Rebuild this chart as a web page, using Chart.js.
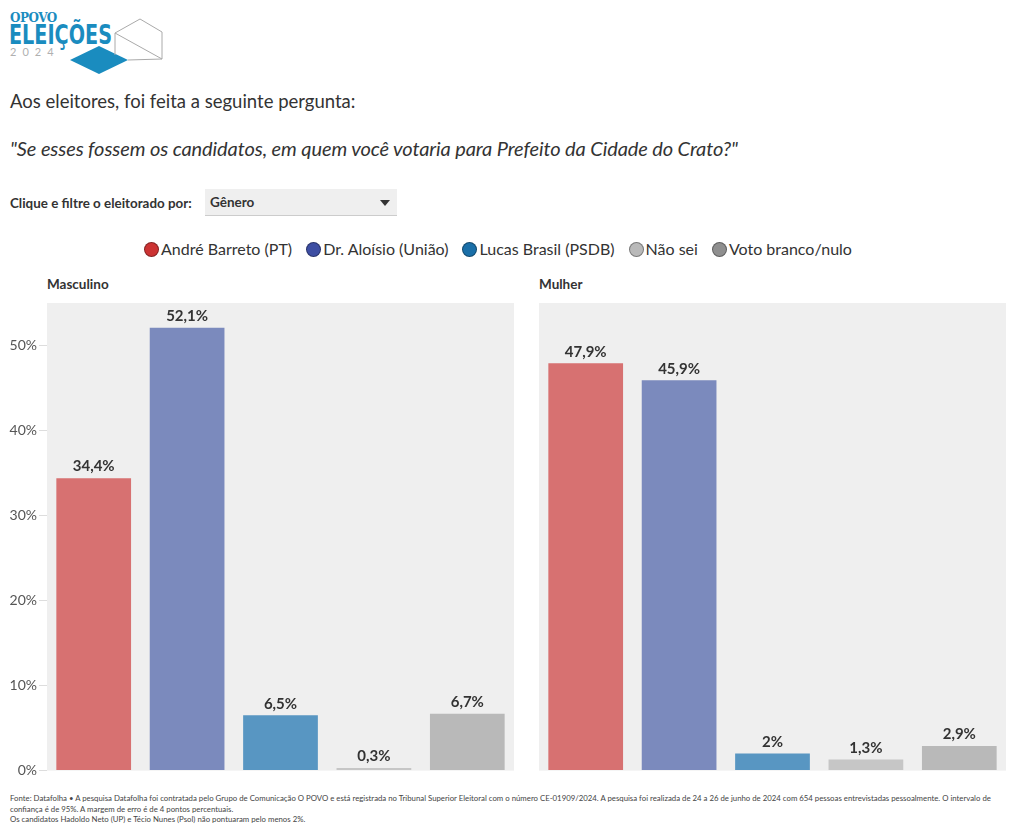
<!DOCTYPE html>
<html>
<head>
<meta charset="utf-8">
<script src="https://cdn.jsdelivr.net/npm/chart.js@4"></script>
<style>
  body { margin: 0; width: 1020px; height: 834px; background: #fff; font-family: Lato, "Noto Sans", sans-serif; color: #333; position: relative; overflow: hidden; }
  .abs { position: absolute; }
  #logo { left: 8px; top: 10px; }
  #q1 { left: 10px; top: 90px; font-size: 18.5px; color: #333; }
  #q2 { left: 10px; top: 136px; font-size: 20px; font-style: italic; color: #333; letter-spacing: -0.1px; }
  #filtro { left: 10px; top: 195px; font-size: 13.4px; font-weight: bold; color: #333; }
  #select { left: 205px; top: 189px; width: 192px; height: 26px; background: #efefef; border-bottom: 1px solid #ccc; font-size: 13.5px; font-weight: bold; }
  #select span { position: absolute; left: 5px; top: 5px; }
  #select i { position: absolute; right: 7px; top: 11px; width: 0; height: 0; border-left: 5px solid transparent; border-right: 5px solid transparent; border-top: 6px solid #333; }
  #legend { left: -12px; width: 1020px; top: 239px; text-align: center; font-size: 16px; color: #333; }
  #legend span { margin: 0 7px; white-space: nowrap; }
  #legend b { display: inline-block; width: 15px; height: 15px; border-radius: 50%; vertical-align: -2px; margin-right: 2px; border: 1px solid rgba(0,0,0,0.35); box-sizing: border-box; }
  .ptitle { top: 276px; font-size: 13.5px; font-weight: bold; color: #333; }
  #foot { left: 10px; top: 793px; font-size: 7.8px; line-height: 10.5px; color: #444; white-space: nowrap; }
</style>
</head>
<body>
<svg id="logo" class="abs" width="160" height="66" viewBox="0 0 160 66">
  <text x="2" y="12" font-family="'DejaVu Serif', serif" font-weight="bold" font-size="12" fill="#1a8cbf" letter-spacing="-0.5">OPOVO</text>
  <text x="1" y="34" font-family="'DejaVu Sans', sans-serif" font-weight="bold" font-size="26" fill="#1a8cbf" textLength="103" lengthAdjust="spacingAndGlyphs">ELEIÇÕES</text>
  <text x="2" y="46" font-family="Lato, sans-serif" font-size="11" fill="#b0b0b0" letter-spacing="6">2024</text>
  <polygon points="62,50 91,36 120,50 91,64" fill="#1a8cbf"/>
  <polyline points="107,23 132,9 154,22 154,49 107,23 107,45" fill="none" stroke="#aaa" stroke-width="1"/>
  <line x1="120" y1="50" x2="154" y2="49" stroke="#aaa"/>
</svg>
<div id="q1" class="abs">Aos eleitores, foi feita a seguinte pergunta:</div>
<div id="q2" class="abs">"Se esses fossem os candidatos, em quem você votaria para Prefeito da Cidade do Crato?"</div>
<div id="filtro" class="abs">Clique e filtre o eleitorado por:</div>
<div id="select" class="abs"><span>Gênero</span><i></i></div>
<div id="legend" class="abs"></div>
<div class="abs ptitle" style="left:47px">Masculino</div>
<div class="abs ptitle" style="left:539px">Mulher</div>
<canvas id="cMasc" class="abs" style="left:0;top:283px"></canvas>
<canvas id="cMulher" class="abs" style="left:492px;top:283px"></canvas>
<div id="foot" class="abs">Fonte: Datafolha • A pesquisa Datafolha foi contratada pelo Grupo de Comunicação O POVO e está registrada no Tribunal Superior Eleitoral com o número CE-01909/2024. A pesquisa foi realizada de 24 a 26 de junho de 2024 com 654 pessoas entrevistadas pessoalmente. O intervalo de<br>confiança é de 95%. A margem de erro é de 4 pontos percentuais.<br>Os candidatos Hadoldo Neto (UP) e Técio Nunes (Psol) não pontuaram pelo menos 2%.</div>
<script>
const categories = ["André Barreto (PT)", "Dr. Aloísio (União)", "Lucas Brasil (PSDB)", "Não sei", "Voto branco/nulo"];
const masculino = [34.4, 52.1, 6.5, 0.3, 6.7];
const mulher = [47.9, 45.9, 2, 1.3, 2.9];
const yTicks = [0, 10, 20, 30, 40, 50];
const barColors = ["#d77171", "#7b8abd", "#5896c2", "#c6c6c6", "#b9b9b9"];
const legendColors = ["#cc3333", "#3d4ea3", "#1a6fa8", "#b9b9b9", "#8f8f8f"];

const legendEl = document.getElementById("legend");
categories.forEach((c, i) => {
  legendEl.innerHTML += `<span><b style="background:${legendColors[i]}"></b>${c}</span>`;
});

const fmt = (v) => String(v).replace(".", ",") + "%";

const plotBg = {
  id: "plotBg",
  beforeDraw(chart) {
    const a = chart.chartArea;
    const ctx = chart.ctx;
    ctx.save();
    ctx.fillStyle = "#efefef";
    ctx.fillRect(a.left, a.top, a.right - a.left, a.bottom - a.top);
    ctx.restore();
  },
};

const valueLabels = {
  id: "valueLabels",
  afterDatasetsDraw(chart) {
    const ctx = chart.ctx;
    const meta = chart.getDatasetMeta(0);
    const data = chart.data.datasets[0].data;
    ctx.save();
    ctx.font = "bold 15px Lato, sans-serif";
    ctx.fillStyle = "#333";
    ctx.textAlign = "center";
    ctx.textBaseline = "bottom";
    meta.data.forEach((bar, i) => {
      ctx.fillText(fmt(data[i]), bar.x, bar.y - 4);
    });
    ctx.restore();
  },
};

function makeChart(id, values, showLabels) {
  const canvas = document.getElementById(id);
  canvas.width = 514;
  canvas.height = 498;
  return new Chart(canvas.getContext("2d"), {
    type: "bar",
    data: {
      labels: categories,
      datasets: [{
        data: values,
        backgroundColor: barColors,
        categoryPercentage: 0.8,
        barPercentage: 1,
      }],
    },
    options: {
      responsive: false,
      animation: false,
      layout: { padding: { top: 20, right: 0, bottom: 0, left: 0 } },
      scales: {
        x: { display: false },
        y: {
          min: 0,
          max: 55,
          afterBuildTicks(scale) {
            scale.ticks = yTicks.map((v) => ({ value: v }));
          },
          afterFit(scale) { scale.width = 47; },
          border: { display: false },
          grid: {
            drawOnChartArea: false,
            tickLength: 8,
            color: showLabels ? "#dddddd" : "rgba(0,0,0,0)",
          },
          ticks: {
            padding: 2,
            color: showLabels ? "#555" : "rgba(0,0,0,0)",
            font: { family: "Lato, sans-serif", size: 14 },
            callback: (v) => v + "%",
          },
        },
      },
      plugins: { legend: { display: false }, tooltip: { enabled: false } },
    },
    plugins: [plotBg, valueLabels],
  });
}

makeChart("cMasc", masculino, true);
makeChart("cMulher", mulher, false);
</script>
</body>
</html>
